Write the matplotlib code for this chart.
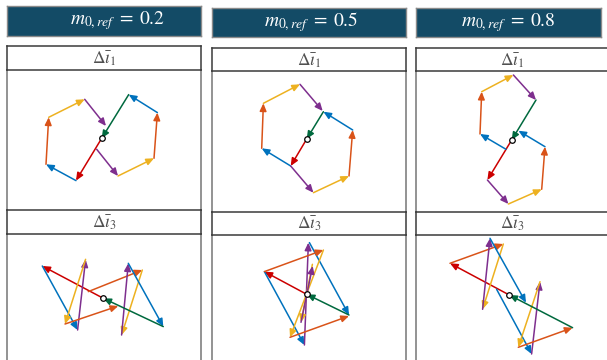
import matplotlib.pyplot as plt

plt.rcParams['mathtext.fontset'] = 'stix'
plt.rcParams['font.family'] = ['STIXGeneral', 'DejaVu Serif']

# header values
m_ref = ['0.2', '0.5', '0.8']

# colours of the vectors (MATLAB-like)
pal = {'R': '#CC0000', 'B': '#0072BD', 'O': '#D95319',
       'Y': '#EDB120', 'P': '#7E2F8E', 'G': '#00693E'}

# trajectories: lists of chains of points, colour per segment
# --- delta i1 ---
i1_m02_pts = [[(0, 0), (-25.7, -42.3), (-55.7, -26), (-53, 21), (-17, 39), (4.3, 12.3)],
              [(-5, -11), (16.3, -37.7), (52.3, -20), (55.7, 25.7), (27, 43.7), (0, 0)]]
i1_m02_col = [['R', 'B', 'O', 'Y', 'P'], ['P', 'Y', 'O', 'B', 'G']]

i1_m05_pts = [[(0, 0), (-16, -27), (-45, -9.3), (-43.3, 35.7), (-6.7, 54.7), (16, 28)],
              [(-16, -27), (6.7, -53.7), (42.3, -37), (46, 9), (16.7, 27.3), (0, 0)]]
i1_m05_col = [['R', 'B', 'O', 'Y', 'P'], ['P', 'Y', 'O', 'B', 'G']]

i1_m08_pts = [[(0, 0), (-24.3, -40), (-3.3, -64), (30, -49.3), (33.3, -6.7), (6.7, 9.3)],
              [(-5.7, -9.3), (-31.7, 6), (-30, 48.3), (1.7, 65), (24.3, 40), (0, 0)]]
i1_m08_col = [['R', 'P', 'Y', 'O', 'B'], ['B', 'O', 'Y', 'P', 'G']]

# --- delta i3 ---
i3_m02_pts = [[(0, 0), (-61, 32.3), (-25.7, -31.7), (-17.7, 39), (-38.3, -25.7), (15, -7.7)],
              [(-15, 6.7), (39, 28.3), (18.3, -36.7), (25, 35), (60, -28.3), (0, 0)]]
i3_m02_col = [['R', 'B', 'P', 'Y', 'O'], ['O', 'Y', 'P', 'B', 'G']]

i3_m05_pts = [[(0, 0), (-42.3, 22.7), (-2.3, -50.7), (1.7, 51.7)],
              [(2.7, 51.7), (42.3, -20.7), (0, 0)],
              [(-42.3, 22.7), (16.7, 44.3), (-16.7, -43), (42.3, -21.7)],
              [(5.7, 30), (-5.7, -28), (6, 28.3)]]
i3_m05_col = [['R', 'B', 'P'], ['B', 'G'], ['O', 'Y', 'O'], ['Y', 'P']]

i3_m08_pts = [[(0, 0), (-59.3, 31.7), (-6, 51), (-26.7, -14.3), (-19.3, 56.7), (16.7, -7.7)],
              [(-12.7, 5.7), (22.3, -59), (30.7, 13.3), (9, -52.3), (63.3, -32.7), (0, 0)]]
i3_m08_col = [['R', 'O', 'Y', 'P', 'B'], ['B', 'P', 'Y', 'O', 'G']]

panels_i1 = [(i1_m02_pts, i1_m02_col), (i1_m05_pts, i1_m05_col), (i1_m08_pts, i1_m08_col)]
panels_i3 = [(i3_m02_pts, i3_m02_col), (i3_m05_pts, i3_m05_col), (i3_m08_pts, i3_m08_col)]

W, H = 607, 360
fig = plt.figure(figsize=(W / 100, H / 100), dpi=100)


def px_axes(x0, y0, x1, y1):
    return fig.add_axes([x0 / W, 1 - y1 / H, (x1 - x0) / W, (y1 - y0) / H])


# layout (pixels)
col_x0 = [7, 212, 415.5]
col_x1 = [201, 406, 609]
head_x1 = [201, 406, 601]
head_y = [(6, 35.5), (7.5, 37), (7.5, 37)]
head_tx = [0.57, 0.51, 0.5]
lab1_y = [(46, 69.5), (47.5, 71), (47.5, 71)]
lab2_y = [(210, 233.5), (211.5, 234.5), (211.5, 234.5)]
orig1 = [(101.7, 138.3), (306.7, 139), (511.7, 140)]
orig3 = [(103.3, 298.3), (306.7, 294.3), (509.3, 295)]


def draw_vectors(ax, chains, cols):
    for pts, cs in zip(chains, cols):
        for (xa, ya), (xb, yb), c in zip(pts[:-1], pts[1:], cs):
            ax.annotate('', xy=(xb, yb), xytext=(xa, ya),
                        arrowprops=dict(arrowstyle='-|>,head_length=0.45,head_width=0.2',
                                        color=pal[c], lw=1.1, shrinkA=0, shrinkB=0,
                                        mutation_scale=10))
    ax.plot(0, 0, 'o', ms=4, mfc='white', mec='black', mew=0.9, zorder=5)


def plot_area(x0, y0, x1, y1, origin):
    ax = px_axes(x0, y0, x1, y1)
    ox, oy = origin
    ax.set_xlim(x0 - ox, x1 - ox)
    ax.set_ylim(oy - y1, oy - y0)
    ax.set_xticks([])
    ax.set_yticks([])
    for s in ['top', 'bottom']:
        ax.spines[s].set_visible(False)
    for s in ['left', 'right']:
        ax.spines[s].set_color('#8a8a8a')
        ax.spines[s].set_linewidth(1.3)
    return ax


def label_box(x0, y0, x1, y1, text):
    ax = px_axes(x0, y0, x1, y1)
    ax.set_xticks([])
    ax.set_yticks([])
    for s in ax.spines.values():
        s.set_color('#3a3a3a')
        s.set_linewidth(1.1)
    ax.text(0.5, 0.45, text, ha='center', va='center', transform=ax.transAxes,
            fontsize=12.5, color='#505050')


for k in range(3):
    # header
    hy0, hy1 = head_y[k]
    hax = px_axes(col_x0[k], hy0, head_x1[k], hy1)
    hax.set_facecolor('#134B66')
    hax.set_xticks([])
    hax.set_yticks([])
    for s in hax.spines.values():
        s.set_color('#8a8a8a')
        s.set_linewidth(1.0)
    hax.text(head_tx[k], 0.5, r'$m_{0,ref}\;=\;%s$' % m_ref[k], ha='center', va='center',
             transform=hax.transAxes, fontsize=14, color='white')

    # delta i1
    l1y0, l1y1 = lab1_y[k]
    l2y0, l2y1 = lab2_y[k]
    ax1 = plot_area(col_x0[k], l1y1, col_x1[k], l2y0, orig1[k])
    draw_vectors(ax1, *panels_i1[k])
    label_box(col_x0[k], l1y0, col_x1[k], l1y1, r'$\mathit{\Delta}\bar{\imath}_1$')

    # delta i3
    ax3 = plot_area(col_x0[k], l2y1, col_x1[k], H + 5, orig3[k])
    draw_vectors(ax3, *panels_i3[k])
    label_box(col_x0[k], l2y0, col_x1[k], l2y1, r'$\mathit{\Delta}\bar{\imath}_3$')

fig.savefig('out.png', dpi=100)
